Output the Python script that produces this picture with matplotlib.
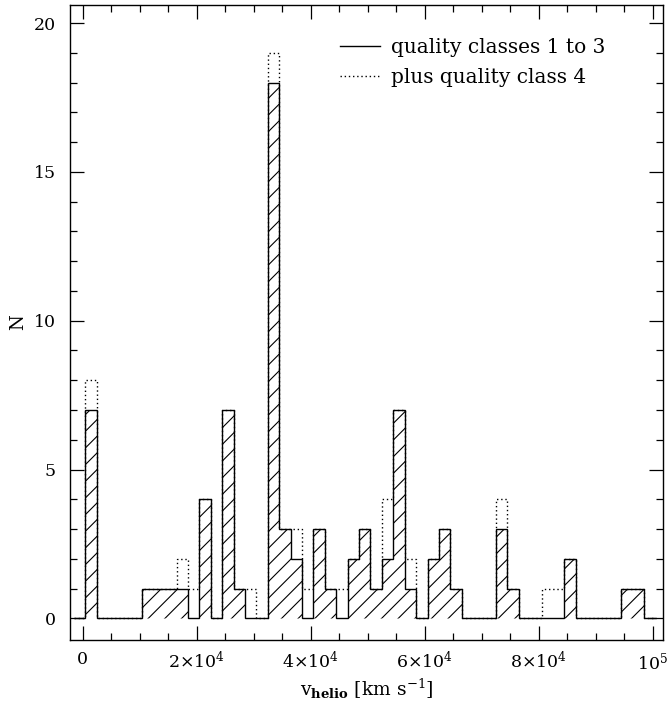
import matplotlib
matplotlib.use("Agg")
import matplotlib.pyplot as plt
from matplotlib.lines import Line2D
from matplotlib.ticker import MultipleLocator
import numpy as np

# bin edges in km/s (2000 km/s bins)
bin_edges = np.arange(-1500, 102500, 2000)

# counts, quality classes 1 to 3 (one value per bin)
counts_q13 = [0, 7, 0, 0, 0, 0, 1, 1, 1, 1, 0,
              4, 0, 7, 1, 0, 0, 18, 3, 2, 0,
              3, 1, 0, 2, 3, 1, 2, 7, 1, 0,
              2, 3, 1, 0, 0, 0, 3, 1, 0, 0,
              0, 0, 2, 0, 0, 0, 0, 1, 1, 0]

# counts, plus quality class 4
counts_q14 = [0, 8, 0, 0, 0, 0, 1, 1, 1, 2, 1,
              4, 0, 7, 1, 1, 0, 19, 3, 3, 1,
              3, 1, 1, 2, 3, 1, 4, 7, 2, 0,
              2, 3, 1, 0, 0, 0, 4, 1, 0, 0,
              1, 1, 2, 0, 0, 0, 0, 1, 1, 0]

xtick_values = [0, 20000, 40000, 60000, 80000, 100000]
xtick_labels = ['0', r'$2{\times}10^4$', r'$4{\times}10^4$', r'$6{\times}10^4$',
                r'$8{\times}10^4$', r'$10^5$']
ytick_values = [0, 5, 10, 15, 20]

plt.rcParams['font.family'] = ['DejaVu Serif']
plt.rcParams['mathtext.fontset'] = 'dejavuserif'
plt.rcParams['hatch.linewidth'] = 0.8
plt.rcParams['hatch.color'] = 'black'

fig = plt.figure(figsize=(6.68, 7.04), dpi=100)
ax = fig.add_axes([0.1048, 0.0909, 0.8877, 0.9024])

# dotted histogram (all classes) underneath
ax.stairs(counts_q14, bin_edges, baseline=0, color='black', linestyle=(0, (1, 2)),
          linewidth=1.0, zorder=2)
# hatched histogram (classes 1 to 3)
ax.stairs(counts_q13, bin_edges, baseline=0, fill=True, facecolor='none',
          edgecolor='black', hatch='//', linewidth=1.0, zorder=3)

ax.set_xlim(-2200, 101800)
ax.set_ylim(-0.73, 20.62)

ax.set_xticks(xtick_values)
ax.set_xticklabels(xtick_labels)
ax.set_yticks(ytick_values)
ax.xaxis.set_minor_locator(MultipleLocator(5000))
ax.yaxis.set_minor_locator(MultipleLocator(1))
ax.tick_params(which='both', direction='in', top=True, right=True, labelsize=12.5)
ax.tick_params(which='major', length=10, width=0.9)
ax.tick_params(which='minor', length=5, width=0.9)
ax.tick_params(axis='x', which='major', pad=8)
ax.tick_params(axis='y', which='major', pad=10)
for sp in ax.spines.values():
    sp.set_linewidth(1.0)

ax.set_xlabel(r'v$_{\mathbf{helio}}$ [km s$^{-1}$]', fontsize=13.5, labelpad=3)
ax.set_ylabel('N', fontsize=13, labelpad=5)

# legend
handles = [Line2D([], [], color='black', linewidth=1.0, linestyle='-'),
           Line2D([], [], color='black', linewidth=1.0, linestyle=(0, (1, 2)))]
ax.legend(handles, ['quality classes 1 to 3', 'plus quality class 4'],
          loc='upper left', frameon=False, fontsize=14.5, handlelength=2.0,
          handletextpad=0.55, labelspacing=0.55, borderpad=0, borderaxespad=0,
          bbox_to_anchor=(0.455, 0.947))

fig.savefig('out.png', dpi=100)
